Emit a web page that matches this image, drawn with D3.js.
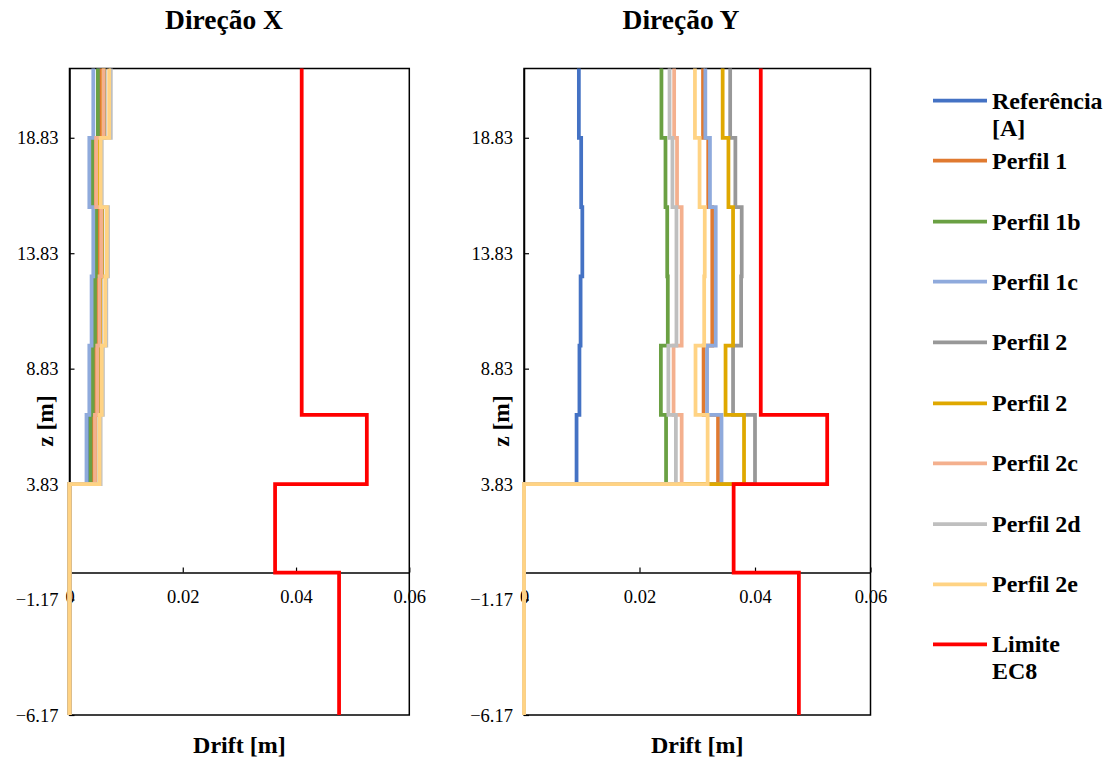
<!DOCTYPE html>
<html>
<head>
<meta charset="utf-8">
<script src="https://cdn.jsdelivr.net/npm/d3@7"></script>
<style>
  html, body { margin: 0; padding: 0; background: #fff; }
  svg { display: block; }
  text { font-family: "Liberation Serif", "Times New Roman", "DejaVu Serif", serif; fill: #000; }
</style>
</head>
<body>
<svg id="chart" width="1108" height="760"></svg>
<script>
// ---- Data ----
// storey boundaries (z, m), top to bottom; each series gives one value per segment
const levels = [21.83, 18.83, 15.83, 12.83, 9.83, 6.83, 3.83, 0, -6.17];
const yTicks = [-6.17, -1.17, 3.83, 8.83, 13.83, 18.83];
const xTicks = [0, 0.02, 0.04, 0.06];
const panelTitles = ["Direção X", "Direção Y"];

const seriesNames = ["Referência [A]", "Perfil 1", "Perfil 1b", "Perfil 1c", "Perfil 2", "Perfil 2", "Perfil 2c", "Perfil 2d", "Perfil 2e", "Limite EC8"];
const seriesColors = ["#4472c4", "#e07a30", "#6aa043", "#8faadc", "#989898", "#dfa800", "#f4b08e", "#bfbfbf", "#ffd384", "#ff0000"];

// Direção X drifts
const refX   = [0.0052, 0.0039, 0.0047, 0.0045, 0.0040, 0.0036, 0, 0];
const p1X    = [0.0056, 0.0044, 0.0051, 0.0049, 0.0045, 0.0041, 0, 0];
const p1bX   = [0.0050, 0.0040, 0.0047, 0.0045, 0.0041, 0.0037, 0, 0];
const p1cX   = [0.0042, 0.0035, 0.0042, 0.0039, 0.0035, 0.0030, 0, 0];
const p2X    = [0.0062, 0.0050, 0.0058, 0.0055, 0.0051, 0.0046, 0, 0];
const p2gX   = [0.0060, 0.0049, 0.0057, 0.0054, 0.0050, 0.0045, 0, 0];
const p2cX   = [0.0060, 0.0047, 0.0056, 0.0053, 0.0049, 0.0045, 0, 0];
const p2dX   = [0.0073, 0.0057, 0.0068, 0.0065, 0.0059, 0.0055, 0, 0];
const p2eX   = [0.0070, 0.0055, 0.0066, 0.0063, 0.0057, 0.0053, 0, 0];
const limX   = [0.041, 0.041, 0.041, 0.041, 0.041, 0.0525, 0.0363, 0.0476];

// Direção Y drifts
const refY   = [0.0095, 0.0099, 0.0101, 0.0098, 0.0096, 0.0091, 0, 0];
const p1Y    = [0.0310, 0.0319, 0.0326, 0.0326, 0.0311, 0.0336, 0, 0];
const p1bY   = [0.0238, 0.0245, 0.0248, 0.0249, 0.0237, 0.0246, 0, 0];
const p1cY   = [0.0314, 0.0322, 0.0332, 0.0332, 0.0317, 0.0342, 0, 0];
const p2Y    = [0.0357, 0.0366, 0.0377, 0.0376, 0.0362, 0.0400, 0, 0];
const p2gY   = [0.0344, 0.0354, 0.0362, 0.0362, 0.0349, 0.0381, 0, 0];
const p2cY   = [0.0260, 0.0265, 0.0273, 0.0273, 0.0259, 0.0273, 0, 0];
const p2dY   = [0.0252, 0.0257, 0.0264, 0.0264, 0.0250, 0.0263, 0, 0];
const p2eY   = [0.0296, 0.0304, 0.0313, 0.0312, 0.0297, 0.0318, 0, 0];
const limY   = [0.041, 0.041, 0.041, 0.041, 0.041, 0.0525, 0.0363, 0.0476];

const seriesX = [refX, p1X, p1bX, p1cX, p2X, p2gX, p2cX, p2dX, p2eX, limX];
const seriesY = [refY, p1Y, p1bY, p1cY, p2Y, p2gY, p2cY, p2dY, p2eY, limY];

// ---- Layout ----
const svg = d3.select("#chart");
const plotTop = 68.5, plotBottom = 715;
const serif = '"Liberation Serif", "Times New Roman", "DejaVu Serif", serif';
const panels = [
  { x0: 69.5, x1: 409.3, data: seriesX, titleX: 224, zLabelX: 45 },
  { x0: 524, x1: 870.5, data: seriesY, titleX: 681, zLabelX: 501 }
];

const y = d3.scaleLinear().domain([-6.17, 21.83]).range([plotBottom, plotTop]);

function stepPoints(vals) {
  const pts = [];
  vals.forEach((v, i) => {
    pts.push([v, levels[i]]);
    pts.push([v, levels[i + 1]]);
  });
  return pts;
}

panels.forEach((p, pi) => {
  const x = d3.scaleLinear().domain([0, 0.06]).range([p.x0, p.x1]);
  const g = svg.append("g");

  // frame
  g.append("rect")
    .attr("x", p.x0).attr("y", plotTop)
    .attr("width", p.x1 - p.x0).attr("height", plotBottom - plotTop)
    .attr("fill", "none").attr("stroke", "#000").attr("stroke-width", 1.5);

  // x axis at z = 0
  const xAxis = d3.axisBottom(x).tickValues(xTicks).tickSizeInner(-5).tickSizeOuter(0)
    .tickFormat(d => d === 0 ? "0" : d3.format(".2f")(d));
  const xa = g.append("g").attr("transform", `translate(0,${y(0)})`).call(xAxis);
  xa.attr("font-family", null);
  xa.select(".domain").attr("stroke", "#000").attr("stroke-width", 1.5);
  xa.selectAll(".tick line").attr("stroke", "#000").attr("stroke-width", 1.2);
  xa.selectAll(".tick text")
    .attr("y", 17).attr("dy", "0.71em")
    .style("font-family", serif).style("font-size", "18.5px").attr("fill", "#000");

  // y axis
  const yAxis = d3.axisLeft(y).tickValues(yTicks).tickSizeInner(-5).tickSizeOuter(0)
    .tickFormat(d3.format(".2f"));
  const ya = g.append("g").attr("transform", `translate(${p.x0},0)`).call(yAxis);
  ya.attr("font-family", null);
  ya.select(".domain").attr("stroke", "#000").attr("stroke-width", 1.5);
  ya.selectAll(".tick line").attr("stroke", "#000").attr("stroke-width", 1.2);
  ya.selectAll(".tick text")
    .attr("x", -11).attr("dy", "0.33em")
    .style("font-family", serif).style("font-size", "18.5px").attr("fill", "#000");

  // series
  const line = d3.line().x(d => x(d[0])).y(d => y(d[1]));
  p.data.forEach((vals, si) => {
    g.append("path")
      .attr("d", line(stepPoints(vals)))
      .attr("fill", "none")
      .attr("stroke", seriesColors[si])
      .attr("stroke-width", 3.75)
      .attr("stroke-linejoin", "miter");
  });

  // titles
  svg.append("text").attr("x", p.titleX).attr("y", 29)
    .attr("text-anchor", "middle").attr("font-weight", "bold").attr("font-size", 27.5)
    .text(panelTitles[pi]);
  svg.append("text").attr("x", (p.x0 + p.x1) / 2).attr("y", 753)
    .attr("text-anchor", "middle").attr("font-weight", "bold").attr("font-size", 24)
    .text("Drift [m]");
  svg.append("text")
    .attr("transform", `translate(${p.zLabelX + 8},421) rotate(-90)`)
    .attr("text-anchor", "middle").attr("font-weight", "bold").attr("font-size", 23.5)
    .text("z [m]");
});

// ---- Legend ----
const legendY = [100.7, 160.7, 221.5, 281.7, 342.3, 403.3, 463.3, 524, 584.3, 644.3];
const leg = svg.append("g");
seriesNames.forEach((name, i) => {
  const ly = legendY[i];
  leg.append("line").attr("x1", 933).attr("x2", 987).attr("y1", ly).attr("y2", ly)
    .attr("stroke", seriesColors[i]).attr("stroke-width", 3.75);
  let lines = [name];
  if (name === "Referência [A]") lines = ["Referência", "[A]"];
  if (name === "Limite EC8") lines = ["Limite", "EC8"];
  const t = leg.append("text").attr("x", 992).attr("y", ly + 8)
    .attr("font-weight", "bold").attr("font-size", 24);
  lines.forEach((l, k) => {
    t.append("tspan").attr("x", 992).attr("dy", k === 0 ? 0 : 27).text(l);
  });
});
</script>
</body>
</html>
